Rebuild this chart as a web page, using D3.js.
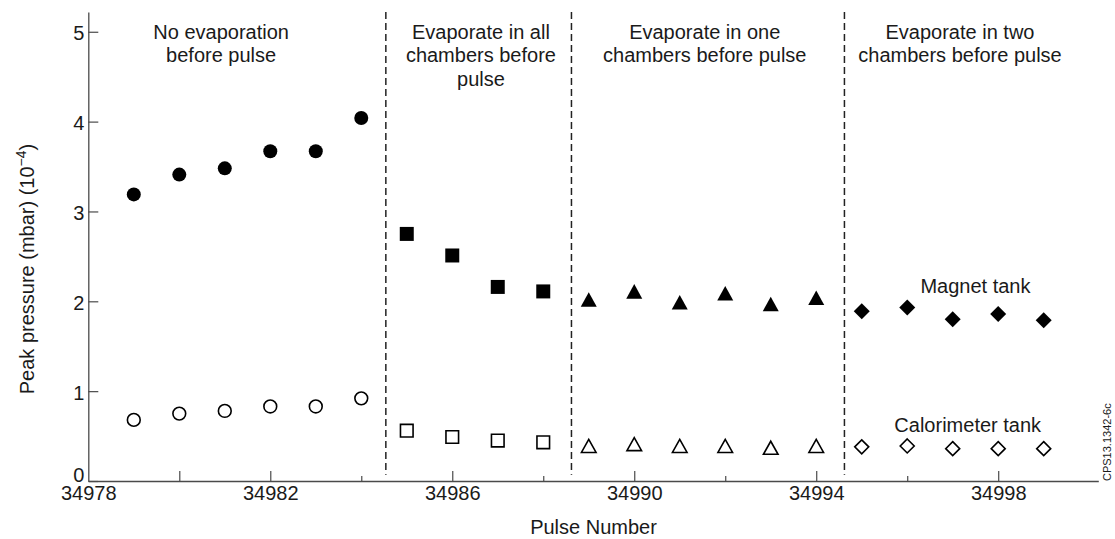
<!DOCTYPE html>
<html>
<head>
<meta charset="utf-8">
<script src="https://cdn.jsdelivr.net/npm/d3@7"></script>
<style>
  html, body { margin: 0; padding: 0; background: #fff; }
  svg { display: block; }
  text { font-family: "Liberation Sans", Arial, Helvetica, sans-serif; fill: #1a1a1a; }
</style>
</head>
<body>
<svg id="chart" width="1115" height="539"></svg>
<script>
// ---- data ----
const pulsesA = [34979, 34980, 34981, 34982, 34983, 34984];
const magnetA = [3.19, 3.41, 3.48, 3.67, 3.67, 4.04];
const calorA  = [0.68, 0.75, 0.78, 0.83, 0.83, 0.92];

const pulsesB = [34985, 34986, 34987, 34988];
const magnetB = [2.75, 2.51, 2.16, 2.11];
const calorB  = [0.56, 0.49, 0.45, 0.43];

const pulsesC = [34989, 34990, 34991, 34992, 34993, 34994];
const magnetC = [2.02, 2.11, 1.99, 2.09, 1.97, 2.04];
const calorC  = [0.39, 0.41, 0.39, 0.39, 0.37, 0.39];

const pulsesD = [34995, 34996, 34997, 34998, 34999];
const magnetD = [1.89, 1.93, 1.80, 1.86, 1.79];
const calorD  = [0.38, 0.39, 0.36, 0.36, 0.36];

const dividers = [34984.54, 34988.62, 34994.62];
const xLabelTicks = [34978, 34982, 34986, 34990, 34994, 34998];
const xLongTicks = [34980, 34982, 34986, 34990, 34994, 34998];
const xShortTicks = [34984, 34988, 34992, 34996];
const yTicks = [0, 1, 2, 3, 4, 5];
const groupTitles = [
  ["No evaporation", "before pulse"],
  ["Evaporate in all", "chambers before", "pulse"],
  ["Evaporate in one", "chambers before pulse"],
  ["Evaporate in two", "chambers before pulse"]
];

// ---- layout ----
const svg = d3.select("#chart");
const x = d3.scaleLinear().domain([34978, 35000.2]).range([88.3, 1098.3]);
const y = d3.scaleLinear().domain([0, 5.22]).range([481, 12]);
const axisColor = "#4a4a4a";

// axes
const allXTicks = d3.range(34978, 34999, 2);
const gx = svg.append("g").attr("transform", `translate(0,${y(0)})`)
  .call(d3.axisBottom(x).tickValues(allXTicks)
    .tickFormat(d => xLabelTicks.includes(d) ? d3.format("d")(d) : "")
    .tickSizeInner(-10).tickSizeOuter(0).tickPadding(5));
gx.selectAll(".tick line")
  .attr("y2", d => xShortTicks.includes(d) ? -5 : (xLongTicks.includes(d) ? -10 : 0));
gx.selectAll(".tick text").attr("font-size", 20).attr("font-family", null).style("fill", "#1a1a1a");

const gy = svg.append("g").attr("transform", `translate(${x(34978)},0)`)
  .call(d3.axisLeft(y).tickValues(yTicks).tickFormat(d3.format("d"))
    .tickSizeInner(-10).tickSizeOuter(0).tickPadding(4));
gy.selectAll(".tick text").attr("font-size", 20).attr("font-family", null)
  .attr("dy", d => d === 0 ? "0.03em" : "0.4em").style("fill", "#1a1a1a");

[gx, gy].forEach(g => {
  g.select(".domain").attr("stroke", axisColor).attr("stroke-width", 1.3);
  g.selectAll(".tick line").attr("stroke", axisColor).attr("stroke-width", 1.2);
});

// dashed dividers
svg.append("g").selectAll("line").data(dividers).join("line")
  .attr("x1", d => x(d)).attr("x2", d => x(d))
  .attr("y1", y(5.22)).attr("y2", y(0.07))
  .attr("stroke", "#222").attr("stroke-width", 1.5)
  .attr("stroke-dasharray", "7,4");

// marker paths, centred on bounding box
function markerPath(shape) {
  switch (shape) {
    case "circle": return d3.symbol(d3.symbolCircle, Math.PI * 7 * 7)();
    case "ocircle": return d3.symbol(d3.symbolCircle, Math.PI * 6.4 * 6.4)();
    case "square": { const h = 7; return `M${-h},${-h}H${h}V${h}H${-h}Z`; }
    case "osquare": { const h = 6.3; return `M${-h},${-h}H${h}V${h}H${-h}Z`; }
    case "triangle": { const w = 8, h = 7.3; return `M0,${-h}L${w},${h}L${-w},${h}Z`; }
    case "otriangle": { const w = 7.3, h = 6.5; return `M0,${-h}L${w},${h}L${-w},${h}Z`; }
    case "diamond": { const w = 8, h = 8; return `M0,${-h}L${w},0L0,${h}L${-w},0Z`; }
    case "odiamond": { const w = 7, h = 7; return `M0,${-h}L${w},0L0,${h}L${-w},0Z`; }
  }
}

const series = [
  { p: pulsesA, v: magnetA, shape: "circle", filled: true },
  { p: pulsesA, v: calorA, shape: "ocircle", filled: false },
  { p: pulsesB, v: magnetB, shape: "square", filled: true },
  { p: pulsesB, v: calorB, shape: "osquare", filled: false },
  { p: pulsesC, v: magnetC, shape: "triangle", filled: true },
  { p: pulsesC, v: calorC, shape: "otriangle", filled: false },
  { p: pulsesD, v: magnetD, shape: "diamond", filled: true },
  { p: pulsesD, v: calorD, shape: "odiamond", filled: false }
];

series.forEach(s => {
  svg.append("g").selectAll("path")
    .data(s.p.map((pp, i) => ({ p: pp, v: s.v[i] })))
    .join("path")
    .attr("d", markerPath(s.shape))
    .attr("transform", d => `translate(${x(d.p)},${y(d.v)})`)
    .attr("fill", s.filled ? "#000" : "#fff")
    .attr("stroke", "#000")
    .attr("stroke-width", s.filled ? 0 : 1.6)
    .attr("stroke-linejoin", "miter");
});

// group titles
const titleX = [34980.92, 34986.63, 34991.55, 34997.16];
groupTitles.forEach((lines, gi) => {
  const t = svg.append("text").attr("text-anchor", "middle").attr("font-size", 20);
  lines.forEach((ln, li) => {
    t.append("tspan").attr("x", x(titleX[gi])).attr("y", 38.5 + li * 23.7).text(ln);
  });
});

// series labels
svg.append("text").attr("text-anchor", "middle").attr("font-size", 20)
  .attr("x", x(34997.5)).attr("y", y(2.09)).text("Magnet tank");
svg.append("text").attr("text-anchor", "middle").attr("font-size", 20)
  .attr("x", x(34997.33)).attr("y", y(0.55)).text("Calorimeter tank");

// axis titles
svg.append("text").attr("text-anchor", "middle").attr("font-size", 20)
  .attr("x", 593.5).attr("y", 534).text("Pulse Number");

const yt = svg.append("text").attr("text-anchor", "middle").attr("font-size", 20)
  .attr("transform", "translate(34,269) rotate(-90)");
yt.append("tspan").text("Peak pressure (mbar) (10");
yt.append("tspan").attr("font-size", 14).attr("dy", -8).text("\u22124");
yt.append("tspan").attr("dy", 8).text(")");

svg.append("text").attr("font-size", 11).attr("text-anchor", "start")
  .attr("transform", "translate(1110.5,481) rotate(-90)").text("CPS13.1342-6c");
</script>
</body>
</html>
